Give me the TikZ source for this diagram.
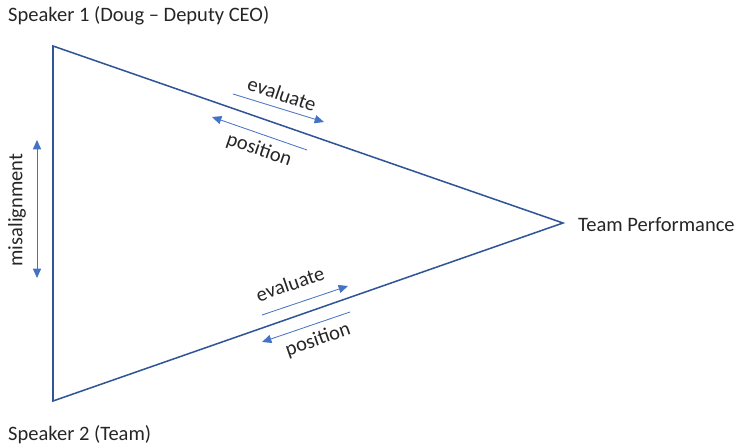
\documentclass[tikz,border=0pt]{standalone}
\usepackage{fontspec}
\setmainfont{Carlito}
\usetikzlibrary{arrows.meta}
\definecolor{edgeblue}{RGB}{47,85,151}
\definecolor{arrowblue}{RGB}{68,114,196}

\begin{document}
\begin{tikzpicture}[x=0.03cm,y=-0.03cm,every node/.style={font=\fontsize{17.5}{20}\selectfont, text=black!85, inner sep=0pt},
  edge/.style={draw=edgeblue, line width=1.3pt, line join=miter},
  flow/.style={draw=arrowblue, line width=0.7pt, -{Triangle[length=8pt,width=7pt]}},
  both/.style={draw=arrowblue, line width=0.7pt, {Triangle[length=8pt,width=7pt]}-{Triangle[length=8pt,width=7pt]}}]

\useasboundingbox (0,0) rectangle (737,447);

\coordinate (s1) at (53,46);
\coordinate (s2) at (53,401);
\coordinate (tp) at (563,223);
\draw[edge] (s1) -- (tp) -- (s2) -- cycle;

\node[anchor=west] (lbl1) at (8,16) {Speaker 1 (Doug -- Deputy CEO)};
\node[anchor=west] (lbl2) at (8,435) {Speaker 2 (Team)};
\node[anchor=west] (lbltp) at (578,225) {Team Performance};

% upper pair
\coordinate (ue1) at (233,94);
\coordinate (ue2) at (324,122);
\coordinate (up1) at (307,150);
\coordinate (up2) at (212,117);
\draw[flow] (ue1) -- (ue2);
\draw[flow] (up1) -- (up2);
\node[rotate=-19] (uel) at (282,94) {evaluate};
\node[rotate=-19] (upl) at (259,150) {position};

% lower pair
\coordinate (le1) at (262,315);
\coordinate (le2) at (348,286);
\coordinate (lp1) at (350,312);
\coordinate (lp2) at (262,342);
\draw[flow] (le1) -- (le2);
\draw[flow] (lp1) -- (lp2);
\node[rotate=19] (lel) at (290,284) {evaluate};
\node[rotate=19] (lpl) at (318,340) {position};

% misalignment
\coordinate (m1) at (37,140);
\coordinate (m2) at (37,278);
\draw[both] (m1) -- (m2);
\node[rotate=90] (ml) at (17,210) {misalignment};
\end{tikzpicture}
\end{document}
